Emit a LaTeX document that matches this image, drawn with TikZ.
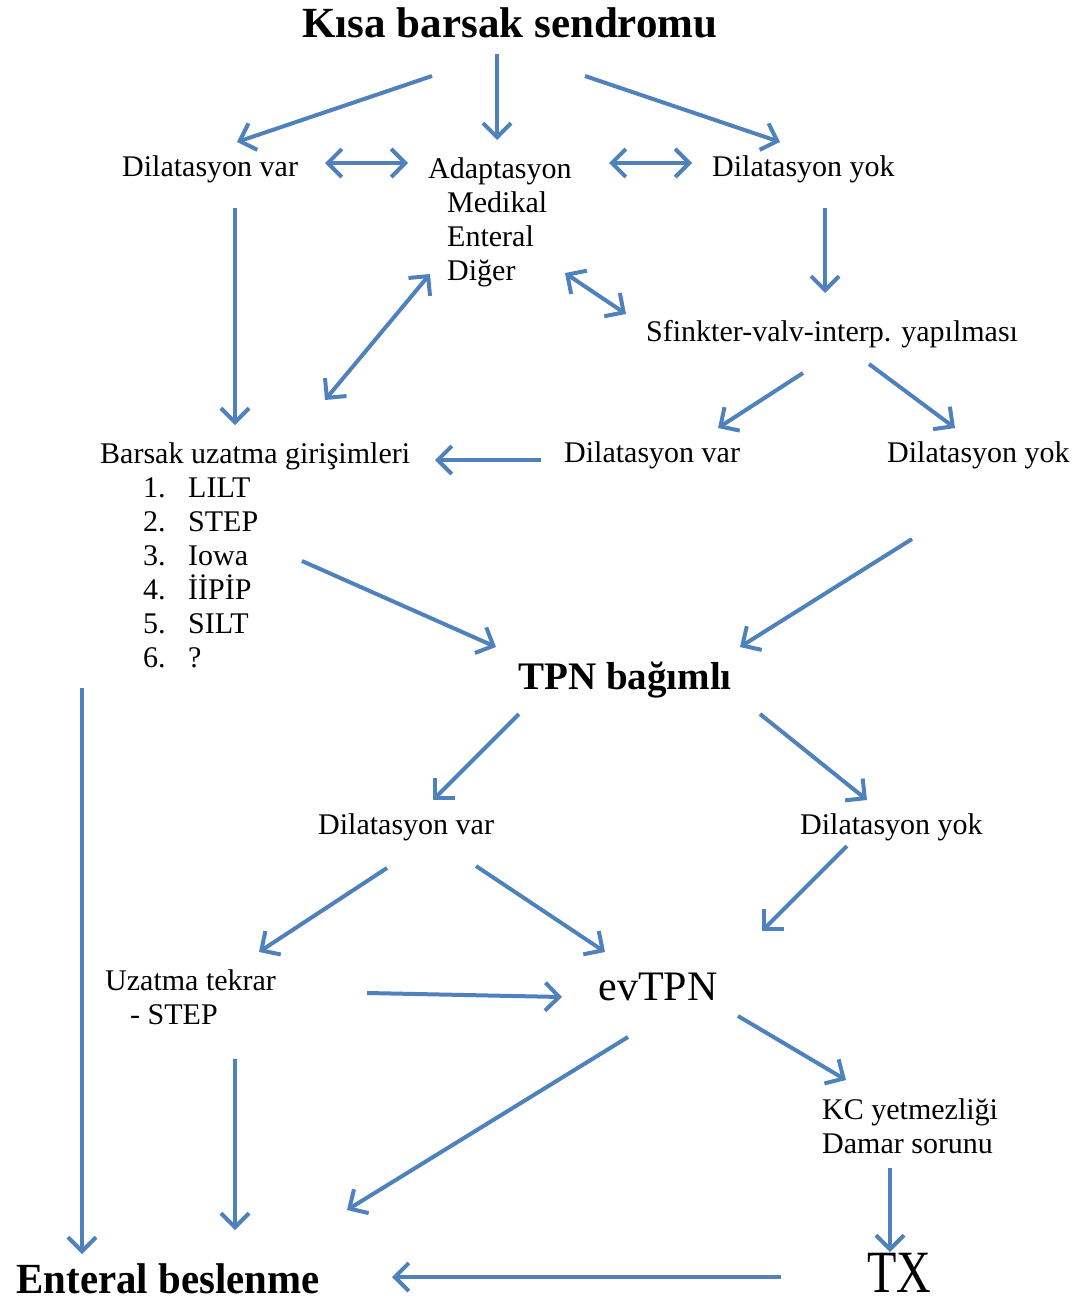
\documentclass[tikz,border=0pt]{standalone}
\usepackage{fontspec}
\setmainfont{Liberation Serif}
\usepackage{graphicx}
\usepackage{color}
\definecolor{myblue}{RGB}{79,129,189}
\usepackage{tikz}
\usetikzlibrary{calc,arrows.meta,positioning}
\tikzstyle{txt}=[inner sep=0pt,font=\fontsize{30}{34}\selectfont,align=left]
\tikzstyle{big}=[inner sep=0pt,anchor=base]
\tikzstyle{link}=[line width=4pt,myblue,-{Straight Barb[length=14pt,width=28pt]}]
\tikzstyle{dlink}=[line width=4pt,myblue,{Straight Barb[length=14pt,width=28pt]}-{Straight Barb[length=14pt,width=28pt]}]
\newcommand{\listitem}[2]{\hspace*{43pt}\makebox[45pt][l]{#1}#2}

\begin{document}
\begin{tikzpicture}[x=1pt,y=-1pt]
\useasboundingbox (0,0) rectangle (1080,1304);

% top
\node [big,font=\fontsize{43}{50}\selectfont\bfseries] (title) at (510,37) {Kısa barsak sendromu};
\node [txt,anchor=base west] (dv1) at (122,176) {Dilatasyon var};
\node [txt,anchor=north west] (adapt) at (428,157)
  {Adaptasyon\\ \hspace*{19pt}Medikal\\ \hspace*{19pt}Enteral\\ \hspace*{19pt}Diğer};
\node [txt,anchor=base west] (dy1) at (712,176) {Dilatasyon yok};
\node [txt,anchor=base west] (sfk) at (646,341) {Sfinkter-valv-interp. yapılması};

% middle
\node [txt,anchor=north west] (bui) at (100,442)
  {Barsak uzatma girişimleri\\
   \listitem{1.}{LILT}\\
   \listitem{2.}{STEP}\\
   \listitem{3.}{Iowa}\\
   \listitem{4.}{İİPİP}\\
   \listitem{5.}{SILT}\\
   \listitem{6.}{?}};
\node [txt,anchor=base west] (dv2) at (564,462) {Dilatasyon var};
\node [txt,anchor=base west] (dy2) at (887,462) {Dilatasyon yok};
\node [big,font=\fontsize{39}{46}\selectfont\bfseries] (tpn) at (625,689) {TPN bağımlı};
\node [txt,anchor=base west] (dv3) at (318,834) {Dilatasyon var};
\node [txt,anchor=base west] (dy3) at (800,834) {Dilatasyon yok};

% bottom
\node [txt,anchor=north west] (uzt) at (105,969) {Uzatma tekrar\\ \hspace*{25pt}- STEP};
\node [big,font=\fontsize{42}{50}\selectfont] (ev) at (658,1000) {evTPN};
\node [txt,anchor=north west] (kc) at (822,1098) {KC yetmezliği\\Damar sorunu};
\node [big,font=\fontsize{60}{66}\selectfont] (tx) at (899,1292) {\scalebox{0.8}[1]{TX}};
\node [big,font=\fontsize{43}{50}\selectfont\bfseries] (eb) at (168,1293) {\scalebox{0.95}[1]{Enteral beslenme}};

% arrows
\draw [link] ($(title.base)+(-78,39)$) -- ($(dv1.base west)+(115,-34)$);
\draw [link] ($(title.base)+(-13,17)$) -- ($(adapt.north west)+(69,-17)$);
\draw [link] ($(title.base)+(75,39)$) -- ($(dy1.base west)+(68,-34)$);
\draw [dlink] ($(dv1.base west)+(203,-13)$) -- ($(adapt.north west)+(-20,6)$);
\draw [dlink] ($(adapt.north west)+(181,6)$) -- ($(dy1.base west)+(-20,-13)$);
\draw [link] ($(dv1.base west)+(113,32)$) -- ($(bui.north west)+(135,-17)$);
\draw [link] ($(dy1.base west)+(113,32)$) -- ($(sfk.base west)+(179,-48)$);
\draw [dlink] ($(adapt.north west)+(137,116)$) -- ($(sfk.base west)+(-20,-27)$);
\draw [dlink] ($(bui.north west)+(225,-42)$) -- ($(adapt.north west)+(2,117)$);
\draw [link] ($(sfk.base west)+(157,32)$) -- ($(dv2.base west)+(154,-34)$);
\draw [link] ($(sfk.base west)+(223,23)$) -- ($(dy2.base west)+(68,-34)$);
\draw [link] ($(dv2.base west)+(-23,-2)$) -- ($(bui.north west)+(335,18)$);
\draw [link] ($(bui.north west)+(202,119)$) -- ($(tpn.base)+(-129,-42)$);
\draw [link] ($(dy2.base west)+(25,77)$) -- ($(tpn.base)+(115,-42)$);
\draw [link] ($(bui.north west)+(-18,246)$) -- ($(eb.base)+(-86,-39)$);
\draw [link] ($(tpn.base)+(-106,25)$) -- ($(dv3.base west)+(115,-34)$);
\draw [link] ($(tpn.base)+(135,25)$) -- ($(dy3.base west)+(67,-34)$);
\draw [link] ($(dv3.base west)+(69,34)$) -- ($(uzt.north west)+(154,-17)$);
\draw [link] ($(dv3.base west)+(158,32)$) -- ($(ev.base)+(-53,-48)$);
\draw [link] ($(dy3.base west)+(47,12)$) -- ($(ev.base)+(104,-69)$);
\draw [link] ($(uzt.north west)+(262,24)$) -- ($(ev.base)+(-96,-3)$);
\draw [link] ($(uzt.north west)+(130,90)$) -- ($(eb.base)+(67,-63)$);
\draw [link] ($(ev.base)+(-30,37)$) -- ($(eb.base)+(179,-83)$);
\draw [link] ($(ev.base)+(80,16)$) -- ($(kc.north west)+(24,-18)$);
\draw [link] ($(kc.north west)+(68,70)$) -- ($(tx.base)+(-9,-40)$);
\draw [link] ($(tx.base)+(-118,-15)$) -- ($(eb.base)+(224,-16)$);
\end{tikzpicture}
\end{document}
